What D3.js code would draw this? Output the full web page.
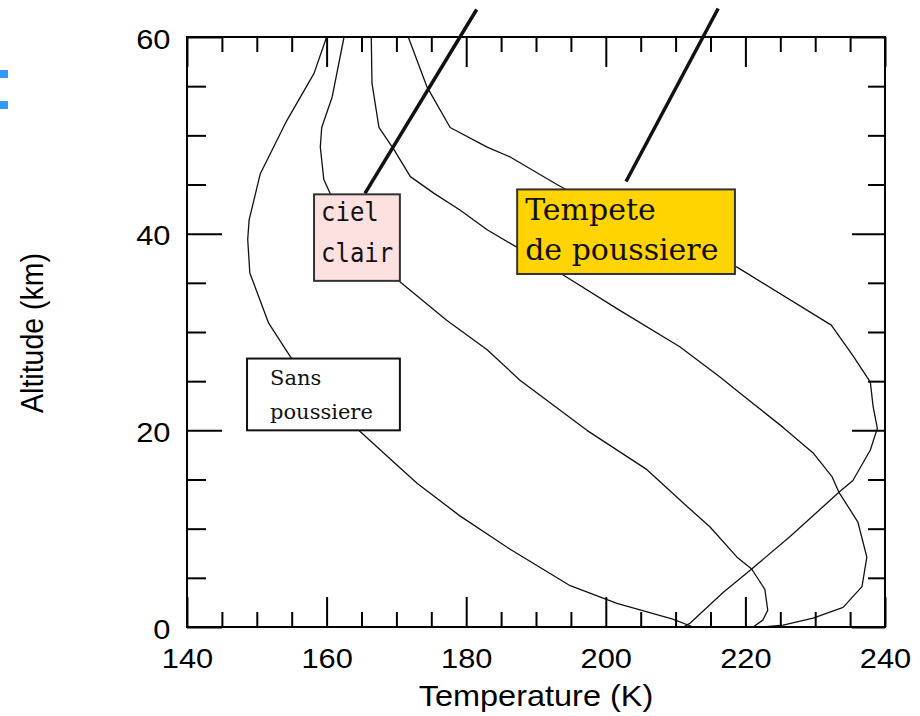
<!DOCTYPE html>
<html>
<head>
<meta charset="utf-8">
<script src="https://cdn.jsdelivr.net/npm/d3@7/dist/d3.min.js"></script>
<style>
  html, body { margin: 0; padding: 0; background: #fff; }
  svg { display: block; }
</style>
</head>
<body>
<div id="chart"></div>
<script>
/**
 * Temperature profiles (T in K, altitude in km)
 */
var sansPoussiere = [
  [160.0, 60], [158.2, 56.3], [154.3, 51.5], [150.5, 46.1], [148.9, 41.4],
  [148.7, 39.4], [149.0, 36.0], [151.7, 30.9], [154.8, 27.5], [159.8, 23.6],
  [164.6, 20.0], [170.5, 16.2], [173.0, 14.6], [179.1, 11.3], [186.3, 7.9],
  [194.9, 4.2], [201.6, 2.4], [209.6, 0.8], [212.5, 0]
]
var cielClair = [
  [162.5, 60], [160.8, 53.9], [159.3, 50.8], [159.1, 48.8], [159.6, 45.5],
  [160.5, 44.1], [164.1, 40.9], [167.4, 37.5], [170.5, 35.1], [177.2, 31.2],
  [183.0, 28.2], [187.7, 25.1], [197.3, 20.0], [205.9, 16.0], [211.1, 12.6],
  [214.9, 10.2], [218.8, 7.1], [220.9, 5.9], [222.8, 3.8], [223.2, 1.7],
  [222.5, 0.7], [221.1, 0]
]
var poussiereModeree = [
  [166.4, 60], [166.5, 55.3], [167.5, 50.8], [169.7, 48.5], [172.0, 45.8],
  [175.4, 44.1], [179.1, 42.4], [183.0, 40.4], [187.3, 38.6], [193.9, 35.8],
  [202.0, 32.2], [210.6, 28.5], [216.4, 25.4], [219.2, 23.8], [225.4, 20.3],
  [229.7, 17.7], [232.4, 15.3], [233.4, 13.7], [236.1, 10.7], [237.4, 7.1],
  [236.7, 4.1], [234.0, 2.0], [229.7, 0.9], [225.4, 0.2], [222.5, 0]
]
var tempete = [
  [171.7, 60], [174.4, 54.9], [177.7, 50.8], [183.0, 48.8], [186.3, 47.8],
  [193.0, 45.0], [204.9, 40.4], [218.8, 36.6], [232.3, 30.7], [235.4, 27.6],
  [237.9, 24.9], [238.3, 22.4], [238.9, 20.2], [237.9, 18.0], [235.4, 14.9],
  [233.4, 13.7], [226.4, 9.2], [220.9, 5.9], [216.8, 3.5], [212.1, 0.4],
  [211.1, 0]
]
var profiles = [sansPoussiere, cielClair, poussiereModeree, tempete]

// axes
var xDomain = [140, 240]
var yDomain = [0, 60]
var xMajorTicks = [140, 160, 180, 200, 220, 240]
var yMajorTicks = [0, 20, 40, 60]
var xMinorTicks = [145, 150, 155, 165, 170, 175, 185, 190, 195, 205, 210, 215, 225, 230, 235]
var yMinorTicks = [5, 10, 15, 25, 30, 35, 45, 50, 55]
var xTitle = 'Temperature (K)'
var yTitle = 'Altitude (km)'

// labels and their pointer lines, in data units
var labelLines = [['ciel', 'clair'], ['Tempete', 'de poussiere'], ['Sans', 'poussiere']]
var pointers = [
  [[165.5, 44.1], [181.5, 62.8]],
  [[202.9, 45.3], [216.1, 62.9]]
]

/**
 * layout and styles
 */
var config = {
  width: 920,
  height: 716,
  padding: { top: 37, right: 35, bottom: 89, left: 187 },
  frame: { stroke: '#000', strokeWidth: 2 },
  ticks: { xMinor: 15, xMajor: 30, yMinor: 19, yMajor: 35, strokeWidth: 2 },
  tickText: { fontSize: 28, stretch: 1.1, family: '"Liberation Sans", Arial, sans-serif' },
  curve: { stroke: '#111', strokeWidth: 1.3 },
  pointer: { stroke: '#111', strokeWidth: 3.5 },
  boxes: [
    { t0: 158.2, t1: 170.5, z0: 44.0, z1: 35.2, fill: '#fde0e0', stroke: '#333', weight: 'normal',
      family: '"DejaVu Sans Mono", monospace', fontSize: 24, dx: 7, dy: [27, 68], sy: 1.14 },
    { t0: 187.3, t1: 218.5, z0: 44.5, z1: 35.9, fill: '#ffd400', stroke: '#333', weight: 'normal',
      family: '"DejaVu Serif", serif', fontSize: 30, dx: 8, dy: [31, 71], sy: 1 },
    { t0: 148.6, t1: 170.5, z0: 27.3, z1: 20.0, fill: '#fff', stroke: '#111', weight: 'normal',
      family: '"DejaVu Serif", serif', fontSize: 21, dx: 23, dy: [26, 60], sy: 1 }
  ],
  bullets: [{ x: 0, y: 70 }, { x: 0, y: 101 }]
}

/**
 *  draw a tick axis with inward ticks, no labels
 */
function tickAxis(g, axis, values, size) {
  g.call(axis.tickValues(values).tickSize(-size).tickFormat(''))
  g.select('.domain').remove()
  g.selectAll('.tick line')
    .attr('stroke', '#000')
    .attr('stroke-width', config.ticks.strokeWidth)
}

function drawCharts(id) {
  var pad = config.padding
  var x = d3.scaleLinear().domain(xDomain).range([pad.left, config.width - pad.right])
  var y = d3.scaleLinear().domain(yDomain).range([config.height - pad.bottom, pad.top])

  var svg = d3.select(id).append('svg')
    .attr('width', config.width)
    .attr('height', config.height)

  // stray slide bullets at the left edge
  svg.selectAll('.bullet')
    .data(config.bullets)
    .enter()
    .append('rect')
    .attr('class', 'bullet')
    .attr('x', function(d) { return d.x })
    .attr('y', function(d) { return d.y })
    .attr('width', 8)
    .attr('height', 8)
    .attr('fill', '#3399ff')

  // profiles
  var line = d3.line()
    .x(function(d) { return x(d[0]) })
    .y(function(d) { return y(d[1]) })

  svg.selectAll('.profile')
    .data(profiles)
    .enter()
    .append('path')
    .attr('class', 'profile')
    .attr('d', line)
    .attr('fill', 'none')
    .attr('stroke', config.curve.stroke)
    .attr('stroke-width', config.curve.strokeWidth)
    .attr('stroke-linejoin', 'round')

  // ticks, minor and major, on all four sides
  var yb = y(yDomain[0]), yt = y(yDomain[1])
  var xl = x(xDomain[0]), xr = x(xDomain[1])
  var tk = config.ticks
  tickAxis(svg.append('g').attr('transform', 'translate(0,' + yb + ')'), d3.axisBottom(x), xMinorTicks, tk.xMinor)
  tickAxis(svg.append('g').attr('transform', 'translate(0,' + yb + ')'), d3.axisBottom(x), xMajorTicks, tk.xMajor)
  tickAxis(svg.append('g').attr('transform', 'translate(0,' + yt + ')'), d3.axisTop(x), xMinorTicks, tk.xMinor)
  tickAxis(svg.append('g').attr('transform', 'translate(0,' + yt + ')'), d3.axisTop(x), xMajorTicks, tk.xMajor)
  tickAxis(svg.append('g').attr('transform', 'translate(' + xl + ',0)'), d3.axisLeft(y), yMinorTicks, tk.yMinor)
  tickAxis(svg.append('g').attr('transform', 'translate(' + xl + ',0)'), d3.axisLeft(y), yMajorTicks, tk.yMajor)
  tickAxis(svg.append('g').attr('transform', 'translate(' + xr + ',0)'), d3.axisRight(y), yMinorTicks, tk.yMinor - 2)
  tickAxis(svg.append('g').attr('transform', 'translate(' + xr + ',0)'), d3.axisRight(y), yMajorTicks, tk.yMajor - 2)

  // frame
  svg.append('rect')
    .attr('x', xl)
    .attr('y', yt)
    .attr('width', xr - xl)
    .attr('height', yb - yt)
    .attr('fill', 'none')
    .attr('stroke', config.frame.stroke)
    .attr('stroke-width', config.frame.strokeWidth)

  // tick labels
  var tt = config.tickText
  var xLab = svg.append('g')
    .attr('transform', 'translate(0,' + yb + ')')
    .call(d3.axisBottom(x).tickValues(xMajorTicks).tickSize(0).tickPadding(21))
  var yLab = svg.append('g')
    .attr('transform', 'translate(' + xl + ',0)')
    .call(d3.axisLeft(y).tickValues(yMajorTicks).tickSize(0).tickPadding(15))
  ;[xLab, yLab].forEach(function(g) {
    g.select('.domain').remove()
    g.selectAll('text')
      .attr('font-family', tt.family)
      .attr('font-size', tt.fontSize)
      .attr('fill', '#000')
      .attr('transform', 'scale(' + tt.stretch + ',1)')
  })
  yLab.selectAll('text').attr('dy', '0.4em')

  // axis titles
  svg.append('text')
    .attr('transform', 'translate(' + ((xl + xr) / 2) + ',706) scale(1.12,1)')
    .attr('text-anchor', 'middle')
    .attr('font-family', tt.family)
    .attr('font-size', 29)
    .text(xTitle)
  svg.append('text')
    .attr('transform', 'translate(43,333) scale(1.1,1) rotate(-90)')
    .attr('text-anchor', 'middle')
    .attr('font-family', tt.family)
    .attr('font-size', 28.5)
    .text(yTitle)

  // pointer lines
  svg.selectAll('.pointer')
    .data(pointers)
    .enter()
    .append('path')
    .attr('class', 'pointer')
    .attr('d', line)
    .attr('stroke', config.pointer.stroke)
    .attr('stroke-width', config.pointer.strokeWidth)

  // label boxes on top of the curves
  config.boxes.forEach(function(b, i) {
    var bx = x(b.t0), by = y(b.z0)
    svg.append('rect')
      .attr('x', bx)
      .attr('y', by)
      .attr('width', x(b.t1) - bx)
      .attr('height', y(b.z1) - by)
      .attr('fill', b.fill)
      .attr('stroke', b.stroke)
      .attr('stroke-width', 2)
    labelLines[i].forEach(function(s, j) {
      svg.append('text')
        .attr('transform', 'translate(' + (bx + b.dx) + ',' + (by + b.dy[j]) + ') scale(1,' + b.sy + ')')
        .attr('font-family', b.family)
        .attr('font-size', b.fontSize)
        .attr('font-weight', b.weight)
        .attr('fill', '#111')
        .text(s)
    })
  })
}

drawCharts('#chart')
</script>
</body>
</html>
